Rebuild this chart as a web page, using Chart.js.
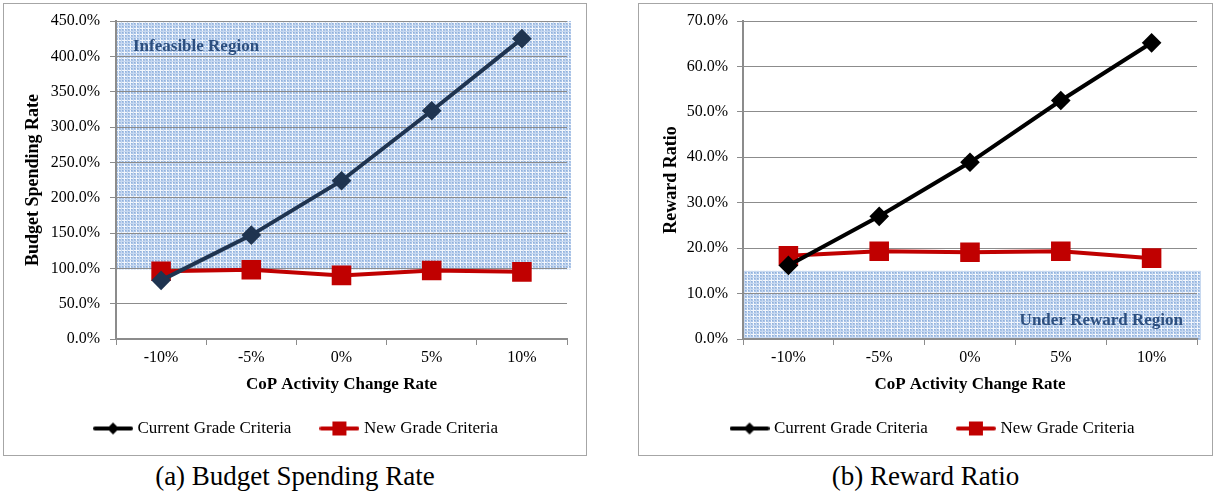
<!DOCTYPE html>
<html>
<head>
<meta charset="utf-8">
<script src="https://cdn.jsdelivr.net/npm/chart.js@4"></script>
<style>
  body { margin: 0; background: #fff; width: 1215px; height: 496px; position: relative; overflow: hidden; }
  .box { position: absolute; top: 3px; border: 1px solid #a6a6a6; background: #fff; }
  .cap { position: absolute; top: 461px; font-family: "Liberation Serif", serif; font-size: 27px; color: #000; text-align: center; }
</style>
</head>
<body>
<div class="box" style="left:3px;width:582px;height:451px"><canvas id="grafico_1" width="582" height="451"></canvas></div>
<div class="box" style="left:638px;width:573px;height:451px"><canvas id="grafico_2" width="573" height="451"></canvas></div>
<div class="cap" style="left:3px;width:584px">(a) Budget Spending Rate</div>
<div class="cap" style="left:638px;width:575px">(b) Reward Ratio</div>
<script>
const categorias = ['-10%', '-5%', '0%', '5%', '10%'];

// (a) budget spending rate, %
const gastoAtual = [83, 147, 224, 323, 425];
const gastoNovo = [96, 98, 90, 97, 95];
const limiteGasto = [100, 450];   // infeasible region

// (b) reward ratio, %
const premioAtual = [16.2, 27.0, 38.9, 52.5, 65.2];
const premioNovo = [18.3, 19.3, 19.1, 19.3, 17.8];
const limitePremio = [0, 15];     // under reward region

const serif = 'Liberation Serif';
const cinza = '#8c8c8c';

function padrao() {
  const c = document.createElement('canvas');
  c.width = 6; c.height = 6;
  const g = c.getContext('2d');
  g.fillStyle = '#a9c3e7'; g.fillRect(0, 0, 6, 6);
  g.fillStyle = '#f2f6fc'; g.fillRect(0, 0, 6, 1); g.fillRect(0, 0, 1, 6);
  g.fillStyle = '#c8d9f0'; g.fillRect(3, 0, 1, 6); g.fillRect(0, 3, 6, 1);
  g.fillStyle = '#8fb0da'; g.fillRect(1, 1, 1, 1); g.fillRect(4, 4, 1, 1); g.fillRect(1, 4, 1, 1); g.fillRect(4, 1, 1, 1);
  return c;
}

function simbolo(cor, estilo) {
  const c = document.createElement('canvas');
  c.width = 40; c.height = 16;
  const g = c.getContext('2d');
  g.strokeStyle = cor; g.lineWidth = 4; g.lineCap = 'round';
  g.beginPath(); g.moveTo(2, 8); g.lineTo(38, 8); g.stroke();
  g.fillStyle = cor;
  if (estilo === 'rect') {
    g.fillRect(13, 1, 14, 14);
  } else {
    g.beginPath(); g.moveTo(20, 2); g.lineTo(26, 8); g.lineTo(20, 14); g.lineTo(14, 8); g.closePath(); g.fill();
  }
  return c;
}

function regiao(faixa, texto, lado) {
  return {
    id: 'regiao',
    beforeDraw(chart) {
      const { ctx, chartArea } = chart;
      const y = chart.scales.y;
      const top = y.getPixelForValue(faixa[1]);
      const bottom = y.getPixelForValue(faixa[0]);
      ctx.save();
      ctx.fillStyle = ctx.createPattern(padrao(), 'repeat');
      ctx.fillRect(chartArea.left, top, chartArea.right - chartArea.left + 4, bottom - top + 1);
      ctx.restore();
    },
    afterDatasetsDraw(chart) {
      const { ctx, chartArea } = chart;
      const y = chart.scales.y;
      ctx.save();
      ctx.font = 'bold 17px "' + serif + '"';
      ctx.fillStyle = '#2d4f7f';
      ctx.textBaseline = 'middle';
      if (lado === 'esquerda') {
        ctx.textAlign = 'left';
        ctx.fillText(texto, chartArea.left + 17, y.getPixelForValue(faixa[1]) + 26);
      } else {
        ctx.textAlign = 'right';
        ctx.fillText(texto, chartArea.right - 14, y.getPixelForValue(faixa[0]) - 18);
      }
      ctx.restore();
    }
  };
}

function grafico(id, atual, novo, corAtual, yMax, yStep, eixo, plugin) {
  const ctx = document.getElementById(id);
  new Chart(ctx, {
    type: 'line',
    data: {
      labels: categorias,
      datasets: [{
        label: 'Current Grade Criteria',
        data: atual,
        borderColor: corAtual,
        backgroundColor: corAtual,
        borderWidth: 4,
        pointStyle: 'rectRot',
        pointRadius: 7,
        pointHoverRadius: 7,
        tension: 0
      }, {
        label: 'New Grade Criteria',
        data: novo,
        borderColor: '#c00000',
        backgroundColor: '#c00000',
        borderWidth: 4,
        pointStyle: 'rect',
        pointRadius: 11,
        pointHoverRadius: 11,
        tension: 0
      }]
    },
    options: {
      responsive: false,
      animation: false,
      // left padding only shifts the centred legend; the y axis width makes up for it
      layout: { padding: { top: eixo.top, right: eixo.right, bottom: 8, left: 24 } },
      scales: {
        x: {
          offset: true,
          grid: { offset: true, drawOnChartArea: false, color: cinza, tickLength: 6 },
          border: { color: cinza, width: 2 },
          ticks: { color: '#000', font: { family: serif, size: 16 }, padding: 3 },
          title: { display: true, text: 'CoP Activity Change Rate', color: '#000', font: { family: serif, size: 17, weight: 'bold' }, padding: { top: 0, bottom: -7 } },
          afterFit: s => { s.height = eixo.xAltura; }
        },
        y: {
          min: 0,
          max: yMax,
          ticks: { stepSize: yStep, color: '#000', font: { family: serif, size: 16 }, padding: eixo.tickPad, callback: v => v.toFixed(1) + '%' },
          grid: { color: cinza, tickLength: 6 },
          border: { color: cinza, width: 2 },
          title: { display: true, text: eixo.titulo, color: '#000', font: { family: serif, size: eixo.tituloTam, weight: 'bold' }, padding: { top: eixo.tituloPad, bottom: 0 } },
          afterFit: s => { s.width = eixo.largura; s.paddingTop = 0; s.paddingBottom = 0; }
        }
      },
      plugins: {
        tooltip: { enabled: false },
        legend: {
          position: 'bottom',
          labels: {
            usePointStyle: true,
            pointStyleWidth: 32,
            padding: 32,
            color: '#000',
            font: { family: serif, size: 17 },
            generateLabels: chart => chart.data.datasets.map((d, i) => ({
              text: d.label,
              pointStyle: simbolo(i === 0 ? '#000' : '#c00000', d.pointStyle),
              fontColor: '#000',
              datasetIndex: i,
              hidden: false,
              lineWidth: 0
            }))
          }
        }
      }
    },
    plugins: [plugin]
  });
}

grafico('grafico_1', gastoAtual, gastoNovo, '#1f3450', 450, 50,
  { titulo: 'Budget Spending Rate', tituloTam: 18, tituloPad: -5, largura: 88, tickPad: 10, top: 17, right: 19, xAltura: 49 },
  regiao(limiteGasto, 'Infeasible Region', 'esquerda'));
grafico('grafico_2', premioAtual, premioNovo, '#000000', 70, 10,
  { titulo: 'Reward Ratio', tituloTam: 18, tituloPad: -2, largura: 80, tickPad: 9, top: 17, right: 7, xAltura: 49 },
  regiao(limitePremio, 'Under Reward Region', 'direita'));
</script>
</body>
</html>
